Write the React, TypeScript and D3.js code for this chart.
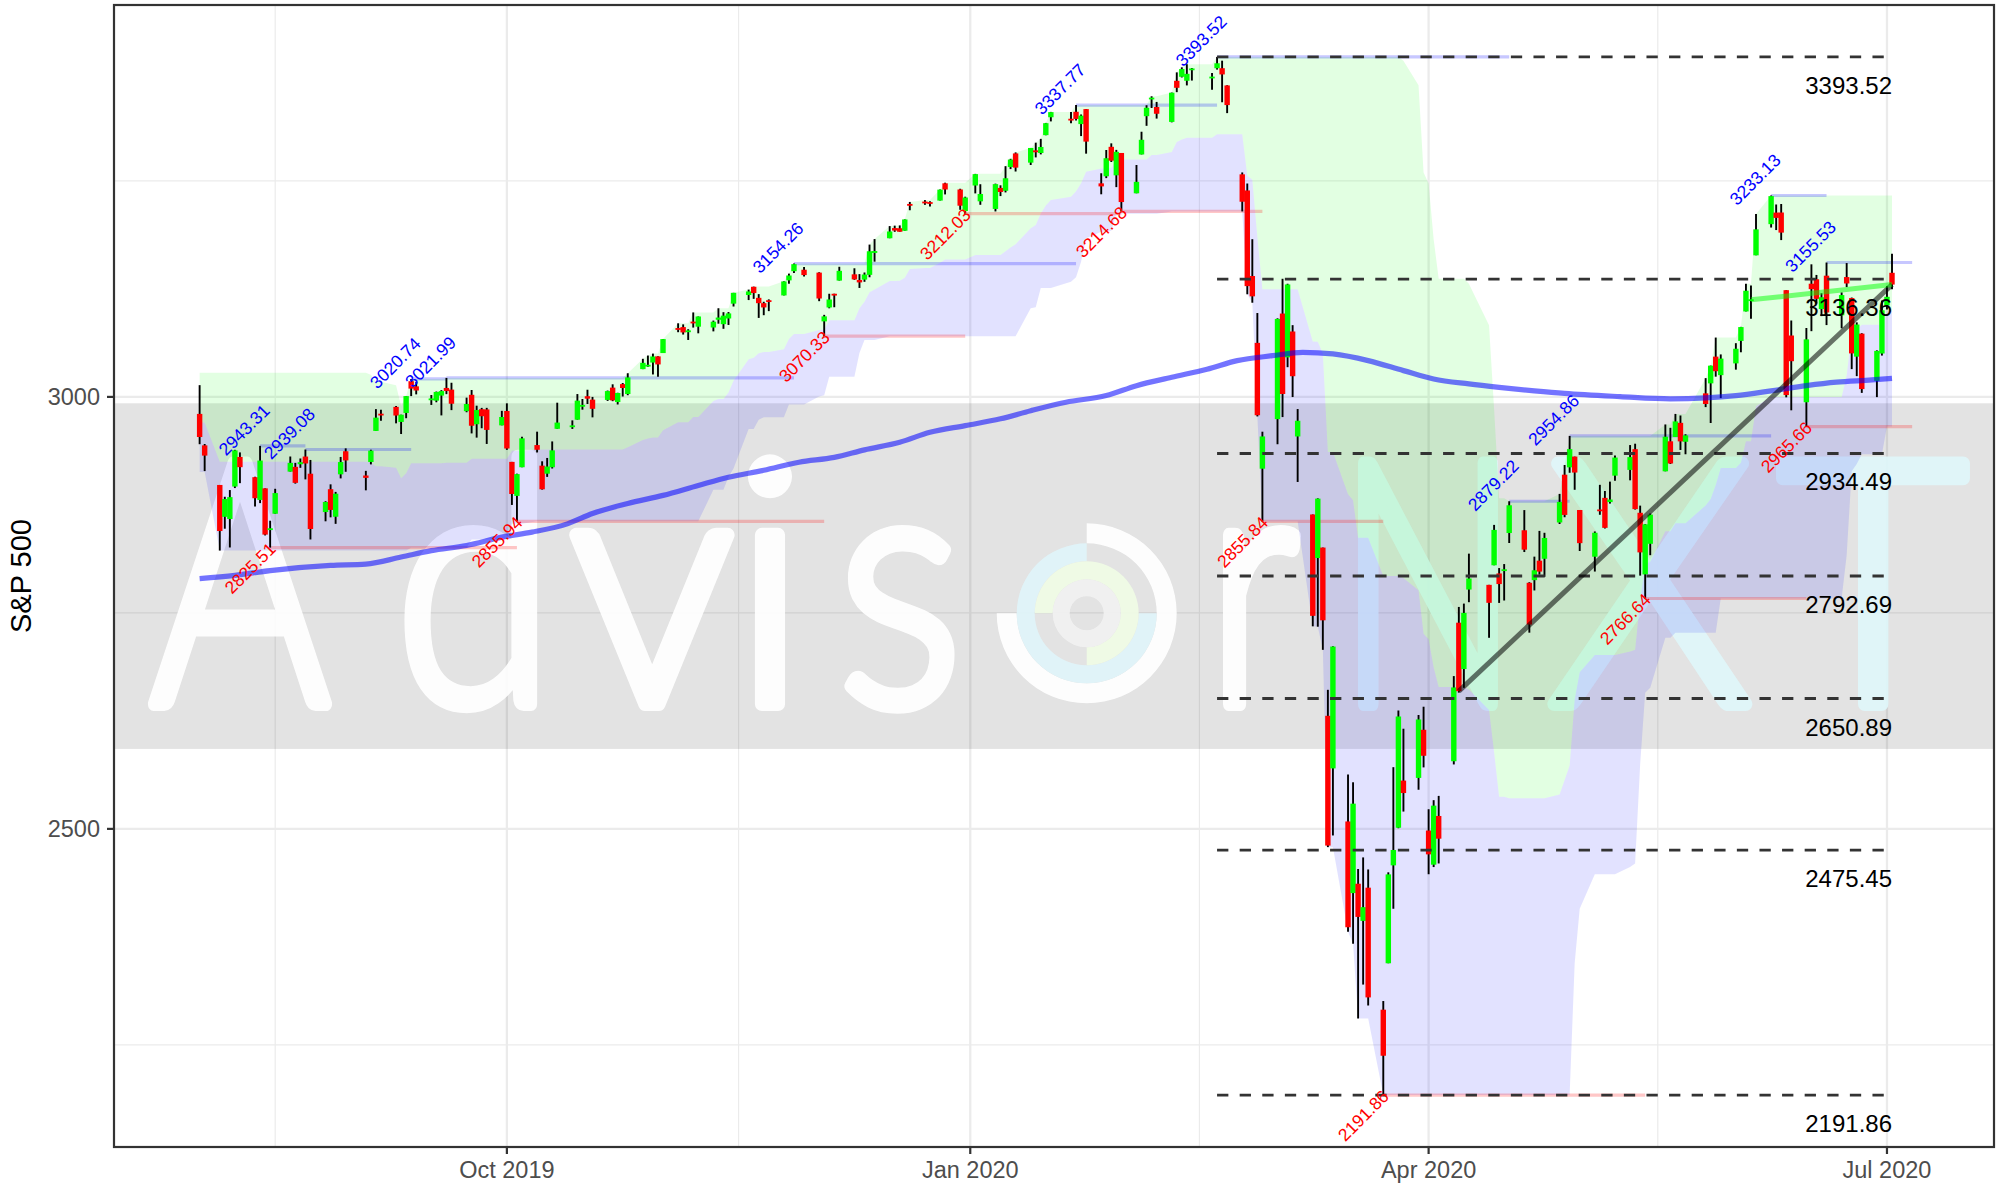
import React from "react";
import * as d3 from "d3";

// ---------------- DATA ----------------
const monthDays: [string, number[]][] = [
  ["2019-08", [1, 2, 5, 6, 7, 8, 9, 12, 13, 14, 15, 16, 19, 20, 21, 22, 23, 26, 27, 28, 29, 30]],
  ["2019-09", [3, 4, 5, 6, 9, 10, 11, 12, 13, 16, 17, 18, 19, 20, 23, 24, 25, 26, 27, 30]],
  ["2019-10", [1, 2, 3, 4, 7, 8, 9, 10, 11, 14, 15, 16, 17, 18, 21, 22, 23, 24, 25, 28, 29, 30, 31]],
  ["2019-11", [1, 4, 5, 6, 7, 8, 11, 12, 13, 14, 15, 18, 19, 20, 21, 22, 25, 26, 27, 29]],
  ["2019-12", [2, 3, 4, 5, 6, 9, 10, 11, 12, 13, 16, 17, 18, 19, 20, 23, 24, 26, 27, 30, 31]],
  ["2020-01", [2, 3, 6, 7, 8, 9, 10, 13, 14, 15, 16, 17, 21, 22, 23, 24, 27, 28, 29, 30, 31]],
  ["2020-02", [3, 4, 5, 6, 7, 10, 11, 12, 13, 14, 18, 19, 20, 21, 24, 25, 26, 27, 28]],
  ["2020-03", [2, 3, 4, 5, 6, 9, 10, 11, 12, 13, 16, 17, 18, 19, 20, 23, 24, 25, 26, 27, 30, 31]],
  ["2020-04", [1, 2, 3, 6, 7, 8, 9, 13, 14, 15, 16, 17, 20, 21, 22, 23, 24, 27, 28, 29, 30]],
  ["2020-05", [1, 4, 5, 6, 7, 8, 11, 12, 13, 14, 15, 18, 19, 20, 21, 22, 26, 27, 28, 29]],
  ["2020-06", [1, 2, 3, 4, 5, 8, 9, 10, 11, 12, 15, 16, 17, 18, 19, 22, 23, 24, 25, 26, 29, 30]],
  ["2020-07", [1, 2]],
];

const openPrices = [
  2980.32, 2943.90, 2898.07, 2861.18, 2858.65, 2896.21, 2930.51, 2907.07, 2880.72, 2894.15, 2846.20, 2864.74, 2913.48, 2919.01, 2922.04, 2930.94, 2911.07, 2866.70, 2893.14, 2861.28, 2910.37, 2937.09,
  2909.01, 2924.67, 2960.60, 2980.33, 2988.43, 2971.01, 2981.41, 3018.21, 3012.21, 2996.41, 2995.67, 3001.50, 3010.36, 3008.42, 2983.50, 3002.43, 2968.35, 2985.73, 2985.47, 2967.07,
  2983.69, 2924.78, 2885.38, 2918.56, 2944.23, 2920.40, 2911.10, 2918.55, 2963.07, 2965.81, 2973.61, 2989.68, 3000.77, 2996.84, 2996.48, 3010.73, 2994.01, 3014.78, 3003.32, 3032.12, 3035.39, 3039.74, 3046.90,
  3050.72, 3078.96, 3080.80, 3075.10, 3087.02, 3081.25, 3080.33, 3089.28, 3084.18, 3090.75, 3107.92, 3117.91, 3127.45, 3114.66, 3108.49, 3111.41, 3117.44, 3134.85, 3145.49, 3147.18,
  3143.85, 3087.41, 3103.50, 3119.21, 3134.62, 3141.86, 3135.36, 3135.75, 3141.23, 3166.65, 3183.63, 3195.40, 3195.21, 3192.32, 3223.33, 3226.05, 3225.45, 3227.20, 3247.23, 3240.09, 3215.18,
  3244.67, 3226.36, 3217.55, 3241.86, 3238.59, 3266.03, 3281.81, 3271.13, 3285.35, 3282.27, 3302.97, 3323.66, 3321.03, 3330.02, 3315.77, 3333.10, 3247.16, 3255.35, 3289.46, 3256.45, 3282.33,
  3235.66, 3280.61, 3324.91, 3344.92, 3335.54, 3318.28, 3365.87, 3370.50, 3365.90, 3378.08, 3369.04, 3380.39, 3380.45, 3360.50, 3257.61, 3238.94, 3139.90, 3062.54, 2916.90,
  2974.28, 3096.46, 3045.75, 3075.70, 2954.20, 2863.89, 2813.48, 2825.60, 2630.86, 2569.99, 2508.59, 2425.66, 2436.50, 2393.48, 2431.94, 2290.71, 2344.44, 2457.77, 2501.29, 2555.87, 2558.98, 2614.69,
  2498.08, 2458.54, 2514.92, 2578.28, 2738.65, 2685.00, 2776.99, 2782.46, 2805.10, 2795.64, 2799.34, 2842.43, 2845.62, 2784.81, 2787.89, 2810.42, 2812.64, 2854.65, 2909.96, 2918.46, 2930.91,
  2869.09, 2815.01, 2868.88, 2883.14, 2878.26, 2908.83, 2915.46, 2939.50, 2865.86, 2794.54, 2829.95, 2913.86, 2948.59, 2953.63, 2969.95, 2948.05, 3004.08, 3015.65, 3046.61, 3025.17,
  3038.78, 3064.78, 3098.90, 3111.56, 3163.84, 3199.92, 3213.32, 3213.42, 3123.53, 3071.04, 2993.76, 3131.00, 3136.13, 3101.64, 3140.29, 3094.42, 3138.70, 3114.40, 3046.60, 3073.20, 3018.59, 3050.20,
  3105.92, 3143.64,
];

const highPrices = [
  3013.59, 2945.50, 2898.07, 2884.40, 2892.17, 2938.72, 2935.75, 2907.58, 2943.31, 2894.15, 2856.67, 2893.63, 2931.00, 2923.63, 2928.73, 2939.08, 2927.01, 2879.27, 2898.79, 2890.03, 2930.50, 2940.43,
  2914.39, 2938.84, 2985.86, 2985.03, 2989.43, 2979.39, 3000.93, 3020.74, 3017.33, 3002.19, 3006.21, 3007.83, 3021.99, 3016.37, 2999.15, 3007.98, 2989.82, 2987.28, 2987.31, 2983.85,
  2992.53, 2924.78, 2911.13, 2953.74, 2959.75, 2925.47, 2929.32, 2948.46, 2993.28, 2972.84, 3003.28, 2997.54, 3008.29, 3000.00, 3007.33, 3014.57, 3004.78, 3016.07, 3027.39, 3044.08, 3047.87, 3050.10, 3046.90,
  3066.95, 3085.20, 3083.95, 3078.34, 3097.77, 3093.09, 3088.33, 3102.61, 3098.06, 3098.20, 3120.46, 3124.17, 3127.64, 3118.97, 3110.11, 3112.87, 3133.83, 3142.69, 3154.26, 3150.30,
  3144.31, 3094.97, 3119.38, 3119.45, 3150.60, 3148.87, 3142.12, 3143.98, 3176.28, 3182.68, 3197.71, 3198.22, 3198.48, 3205.48, 3225.65, 3227.78, 3226.43, 3240.08, 3247.93, 3240.92, 3231.72,
  3258.14, 3246.15, 3246.84, 3244.91, 3267.07, 3275.58, 3282.99, 3288.13, 3294.25, 3298.66, 3317.11, 3329.88, 3329.79, 3337.77, 3326.88, 3333.18, 3258.85, 3285.78, 3293.47, 3285.91, 3282.33,
  3268.44, 3306.92, 3337.58, 3347.96, 3341.42, 3352.26, 3375.63, 3381.47, 3385.09, 3380.69, 3375.01, 3393.52, 3389.15, 3360.76, 3259.81, 3246.99, 3182.51, 3097.07, 2959.72,
  3090.96, 3136.72, 3130.97, 3083.04, 2985.93, 2863.89, 2882.59, 2825.60, 2660.95, 2711.33, 2562.98, 2553.93, 2453.57, 2466.97, 2453.01, 2300.73, 2449.71, 2571.42, 2637.01, 2615.91, 2631.80, 2641.39,
  2522.75, 2533.22, 2538.18, 2676.85, 2756.89, 2760.75, 2818.57, 2782.46, 2851.85, 2801.88, 2806.51, 2879.22, 2868.98, 2785.54, 2815.10, 2844.90, 2842.71, 2887.72, 2921.15, 2954.86, 2930.91,
  2869.09, 2844.24, 2898.23, 2891.11, 2901.92, 2932.16, 2944.25, 2945.82, 2874.14, 2852.80, 2865.01, 2968.09, 2964.21, 2980.29, 2978.50, 2956.76, 3021.72, 3036.25, 3068.67, 3049.17,
  3062.18, 3081.07, 3130.94, 3128.91, 3211.72, 3233.13, 3222.71, 3223.27, 3123.53, 3088.42, 3079.76, 3153.45, 3141.16, 3120.00, 3155.53, 3120.92, 3154.90, 3115.01, 3086.25, 3073.73, 3053.89, 3111.51,
  3128.44, 3165.81,
];

const lowPrices = [
  2945.23, 2914.11, 2822.12, 2847.42, 2825.71, 2894.47, 2900.15, 2873.14, 2877.05, 2839.64, 2825.51, 2864.74, 2913.48, 2899.60, 2917.91, 2904.51, 2834.97, 2856.00, 2860.59, 2853.05, 2905.67, 2913.32,
  2891.85, 2921.86, 2960.60, 2972.51, 2969.39, 2957.01, 2975.31, 3000.92, 3002.90, 2990.67, 2993.73, 2978.57, 3003.16, 2984.68, 2982.23, 2957.73, 2952.86, 2963.71, 2945.53, 2967.07,
  2938.70, 2874.93, 2855.94, 2918.56, 2935.68, 2892.66, 2907.41, 2917.12, 2963.07, 2962.94, 2973.61, 2985.20, 2991.79, 2976.31, 2995.35, 2995.04, 2991.21, 3000.42, 3001.94, 3032.12, 3034.81, 3025.96, 3023.19,
  3050.72, 3074.87, 3072.15, 3065.89, 3080.23, 3073.58, 3075.82, 3084.73, 3078.80, 3083.26, 3104.60, 3112.06, 3113.47, 3091.41, 3094.55, 3099.26, 3117.44, 3131.00, 3143.41, 3139.34,
  3110.78, 3070.33, 3102.53, 3103.76, 3134.62, 3135.46, 3126.09, 3133.21, 3138.47, 3156.51, 3183.63, 3191.03, 3191.14, 3192.32, 3216.03, 3222.30, 3220.51, 3227.20, 3234.37, 3216.57, 3212.03,
  3235.53, 3222.34, 3214.64, 3232.43, 3236.67, 3263.67, 3260.86, 3268.43, 3277.19, 3280.69, 3302.82, 3318.86, 3316.61, 3320.04, 3301.87, 3281.53, 3234.50, 3253.22, 3271.89, 3242.80, 3214.68,
  3235.66, 3280.61, 3313.75, 3334.39, 3322.12, 3317.77, 3352.72, 3369.72, 3360.52, 3366.15, 3355.61, 3378.83, 3341.02, 3328.45, 3214.65, 3118.77, 3108.99, 2977.39, 2855.84,
  2945.19, 2976.63, 3034.38, 2999.83, 2901.54, 2734.43, 2734.00, 2707.22, 2478.86, 2492.37, 2380.94, 2367.04, 2280.52, 2319.78, 2295.56, 2191.86, 2344.44, 2407.53, 2500.72, 2520.02, 2545.28, 2571.15,
  2447.49, 2455.79, 2459.96, 2574.57, 2657.67, 2663.30, 2762.36, 2721.17, 2805.10, 2761.54, 2764.32, 2830.88, 2820.43, 2727.10, 2775.95, 2794.26, 2791.76, 2852.89, 2860.71, 2912.16, 2892.47,
  2821.61, 2797.85, 2863.55, 2847.65, 2876.48, 2902.88, 2903.44, 2869.59, 2793.15, 2766.64, 2816.78, 2913.86, 2922.35, 2953.63, 2938.57, 2933.59, 2988.17, 2969.75, 3023.40, 2998.61,
  3031.54, 3051.64, 3098.90, 3090.41, 3163.84, 3196.00, 3193.11, 3181.49, 2999.49, 2984.47, 2965.66, 3076.06, 3108.03, 3093.51, 3083.11, 3079.39, 3127.12, 3032.13, 3024.01, 3004.63, 2999.74, 3047.83,
  3101.17, 3124.52,
];

const closePrices = [
  2953.56, 2932.05, 2844.74, 2881.77, 2883.98, 2938.09, 2918.65, 2882.70, 2926.32, 2840.60, 2847.60, 2888.68, 2923.65, 2900.51, 2924.43, 2922.95, 2847.11, 2878.38, 2869.16, 2887.94, 2924.58, 2926.46,
  2906.27, 2937.78, 2976.00, 2978.71, 2978.43, 2979.39, 3000.93, 3009.57, 3007.39, 2997.96, 3005.70, 3006.73, 3006.79, 2992.07, 2991.78, 2966.60, 2984.87, 2977.62, 2961.79, 2976.74,
  2940.25, 2887.61, 2910.63, 2952.01, 2938.79, 2893.06, 2919.40, 2938.13, 2970.27, 2966.15, 2995.68, 2989.69, 2997.95, 2986.20, 3006.72, 2995.99, 3004.52, 3010.29, 3022.55, 3039.42, 3036.89, 3046.77, 3037.56,
  3066.91, 3078.27, 3074.62, 3076.78, 3085.18, 3093.08, 3087.01, 3091.84, 3094.04, 3096.63, 3120.46, 3122.03, 3120.18, 3108.46, 3103.54, 3110.29, 3133.64, 3140.52, 3153.63, 3140.98,
  3113.87, 3093.20, 3112.76, 3117.43, 3145.91, 3135.96, 3132.52, 3141.63, 3168.57, 3168.80, 3191.45, 3192.52, 3191.14, 3205.37, 3221.22, 3224.01, 3223.38, 3239.91, 3240.02, 3221.29, 3230.78,
  3257.85, 3234.85, 3246.28, 3237.18, 3253.05, 3274.70, 3265.35, 3288.13, 3283.15, 3289.29, 3316.81, 3329.62, 3320.79, 3321.75, 3325.54, 3295.47, 3243.63, 3276.24, 3273.40, 3283.66, 3225.52,
  3248.92, 3297.59, 3334.69, 3345.78, 3327.71, 3352.09, 3357.75, 3379.45, 3373.94, 3380.16, 3370.29, 3386.15, 3373.23, 3337.75, 3225.89, 3128.21, 3116.39, 2978.76, 2954.22,
  3090.23, 3003.37, 3130.12, 3023.94, 2972.37, 2746.56, 2882.23, 2741.38, 2480.64, 2711.02, 2386.13, 2529.19, 2398.10, 2409.39, 2304.92, 2237.40, 2447.33, 2475.56, 2630.07, 2541.47, 2626.65, 2584.59,
  2470.50, 2526.90, 2488.65, 2663.68, 2659.41, 2749.98, 2789.82, 2761.63, 2846.06, 2783.36, 2799.55, 2874.56, 2823.16, 2736.56, 2799.31, 2797.80, 2836.74, 2878.48, 2863.39, 2939.51, 2912.43,
  2830.71, 2842.74, 2868.44, 2848.42, 2881.19, 2929.80, 2930.32, 2870.12, 2820.00, 2852.50, 2863.70, 2953.91, 2922.94, 2971.61, 2948.51, 2955.45, 2991.77, 3036.13, 3029.73, 3044.31,
  3055.73, 3080.82, 3122.87, 3112.35, 3193.93, 3232.39, 3207.18, 3190.14, 3002.10, 3041.31, 3066.59, 3124.74, 3113.49, 3115.34, 3097.74, 3117.86, 3131.29, 3050.33, 3083.76, 3009.05, 3053.24, 3100.29,
  3115.86, 3130.01,
];

// Channel upper / lower bounds, run-length listed: [number of trading days, level]
const channelUpperRuns: [number, number][] = [
  [23, 3027.98], [1, 3025.61], [2, 3017.40], [1, 3013.59], [1, 2989.43], [1, 3000.93], [5, 3020.74], [26, 3021.99],
  [1, 3027.39], [1, 3044.08], [1, 3047.87], [2, 3050.10], [1, 3066.95], [3, 3085.20], [3, 3097.77], [3, 3102.61],
  [1, 3120.46], [1, 3124.17], [4, 3127.64], [1, 3133.83], [1, 3142.69], [10, 3154.26], [1, 3176.28], [1, 3182.68],
  [1, 3197.71], [1, 3198.22], [1, 3198.48], [1, 3205.48], [1, 3225.65], [2, 3227.78], [1, 3240.08], [3, 3247.93],
  [4, 3258.14], [1, 3267.07], [1, 3275.58], [1, 3282.99], [1, 3288.13], [1, 3294.25], [1, 3298.66], [1, 3317.11],
  [2, 3329.88], [11, 3337.77], [2, 3347.96], [1, 3352.26], [1, 3375.63], [1, 3381.47], [3, 3385.09], [27, 3393.52],
  [1, 3389.15], [1, 3360.76], [1, 3259.81], [1, 3246.99], [1, 3182.51], [4, 3136.72], [1, 3130.97], [1, 3083.04],
  [1, 2985.93], [2, 2882.59], [6, 2879.22], [1, 2887.72], [1, 2921.15], [13, 2954.86], [2, 2968.09], [3, 2980.29],
  [1, 3021.72], [1, 3036.25], [3, 3068.67], [1, 3081.07], [2, 3130.94], [1, 3211.72], [19, 3233.13],
];
const channelLowerRuns: [number, number][] = [
  [2, 2912.99], [27, 2822.12], [8, 2825.51], [6, 2834.97], [3, 2853.05], [25, 2855.94], [3, 2892.66], [1, 2907.41],
  [1, 2917.12], [2, 2962.94], [1, 2973.61], [3, 2976.31], [3, 2991.21], [1, 3000.42], [1, 3001.94], [4, 3023.19],
  [1, 3050.72], [3, 3065.89], [18, 3070.33], [1, 3102.53], [1, 3103.76], [3, 3126.09], [1, 3133.21], [1, 3138.47],
  [1, 3156.51], [1, 3183.63], [1, 3191.03], [1, 3191.14], [1, 3192.32], [7, 3212.03], [3, 3214.64], [6, 3214.68],
  [1, 3214.65], [1, 3118.77], [1, 3108.99], [1, 2977.39], [6, 2855.84], [1, 2734.43], [1, 2734.00], [1, 2707.22],
  [2, 2478.86], [1, 2380.94], [1, 2367.04], [3, 2280.52], [27, 2191.86], [1, 2344.44], [1, 2407.53], [5, 2447.49],
  [1, 2455.79], [1, 2459.96], [1, 2574.57], [1, 2657.67], [1, 2663.30], [2, 2721.17], [6, 2727.10], [17, 2766.64],
  [1, 2816.78], [1, 2913.86], [1, 2922.35], [3, 2933.59], [2, 2965.66],
];

// Long moving average
const maDates = [
  "2019-08-01", "2019-08-08", "2019-08-15", "2019-08-27", "2019-09-03", "2019-09-10", "2019-09-16", "2019-09-23",
  "2019-09-30", "2019-10-06", "2019-10-13", "2019-10-18", "2019-10-25", "2019-11-01", "2019-11-08", "2019-11-14",
  "2019-11-21", "2019-11-28", "2019-12-05", "2019-12-11", "2019-12-18", "2019-12-24", "2019-12-31", "2020-01-07",
  "2020-01-13", "2020-01-20", "2020-01-28", "2020-02-03", "2020-02-10", "2020-02-17", "2020-02-23", "2020-03-01",
  "2020-03-07", "2020-03-13", "2020-03-20", "2020-03-27", "2020-04-02", "2020-04-09", "2020-04-15", "2020-04-22",
  "2020-04-28", "2020-05-09", "2020-05-19", "2020-05-26", "2020-06-01", "2020-06-08", "2020-06-15", "2020-06-21",
  "2020-06-28", "2020-07-02",
];
const maValues = [
  2789.6, 2793.4, 2799.0, 2805.0, 2806.5, 2814.6, 2822.0, 2828.0,
  2837.7, 2843.5, 2853.0, 2865.0, 2876.6, 2886.0, 2897.5, 2907.0,
  2915.0, 2924.4, 2930.0, 2938.7, 2947.5, 2959.0, 2966.8, 2974.6,
  2984.0, 2993.8, 3001.5, 3013.0, 3022.7, 3032.0, 3042.0, 3047.7,
  3051.6, 3049.7, 3042.0, 3030.4, 3020.8, 3015.0, 3011.0, 3007.0,
  3004.0, 3000.3, 2997.7, 2998.8, 3001.5, 3007.0, 3013.0, 3017.0,
  3019.6, 3021.5,
];

const pivotHighDates = ["2019-08-13", "2019-08-22", "2019-09-12", "2019-09-19", "2019-11-27", "2020-01-22", "2020-02-19", "2020-04-17", "2020-04-29", "2020-06-08", "2020-06-19"];
const pivotHighValues = [2943.31, 2939.08, 3020.74, 3021.99, 3154.26, 3337.77, 3393.52, 2879.22, 2954.86, 3233.13, 3155.53];
const pivotLowDates = ["2019-08-15", "2019-10-03", "2019-12-03", "2019-12-31", "2020-01-31", "2020-02-28", "2020-03-23", "2020-05-14", "2020-06-15"];
const pivotLowValues = [2825.51, 2855.94, 3070.33, 3212.03, 3214.68, 2855.84, 2191.86, 2766.64, 2965.66];
const pivotLineEnd = "2020-07-06";

const fibLevels = [3393.52, 3136.36, 2934.49, 2792.69, 2650.89, 2475.45, 2191.86];
const fibStart = "2020-02-19";
const fibEnd = "2020-07-02";

const trendLineDates = ["2020-04-07", "2020-07-02"];
const trendLineValues = [2659.41, 3130.01];
const shortLineDates = ["2020-06-04", "2020-07-02"];
const shortLineValues = [3112.35, 3130.01];

const yTicks = [2500, 3000];
const yMinorTicks = [2250, 2750, 3250];
const watermarkBand = [2592.5, 2992.6];

// ---------------- HELPERS ----------------
const parseDay = (s: string) => {
  const [y, m, d] = s.split("-").map(Number);
  return new Date(Date.UTC(y, m - 1, d));
};
const expandRuns = (runs: [number, number][]) => runs.flatMap(([n, v]) => Array(n).fill(v) as number[]);

const W = 2007;
const H = 1186;
const P = { left: 114, right: 1994, top: 5, bottom: 1147 };
const FONT = "'Liberation Sans', Arial, Helvetica, sans-serif";

export default function App() {
  const days = monthDays.flatMap(([m, ds]) => ds.map((d) => `${m}-${String(d).padStart(2, "0")}`));
  const dates = days.map(parseDay);

  const x = d3
    .scaleUtc()
    .domain([new Date(Date.UTC(2019, 6, 15)), new Date(Date.UTC(2020, 6, 22, 6))])
    .range([P.left, P.right]);
  const y = d3.scaleLinear().domain([2131.78, 3453.6]).range([P.bottom, P.top]);

  const upper = expandRuns(channelUpperRuns);
  const lower = expandRuns(channelLowerRuns);
  const mid = upper.map((u, i) => (u + lower[i]) / 2);

  const idx = d3.range(dates.length);
  const greenArea = d3
    .area<number>()
    .x((i) => x(dates[i]))
    .y0((i) => y(mid[i]))
    .y1((i) => y(upper[i]))(idx) as string;
  const blueArea = d3
    .area<number>()
    .x((i) => x(dates[i]))
    .y0((i) => y(lower[i]))
    .y1((i) => y(mid[i]))(idx) as string;

  const maLine = d3
    .line<number>()
    .x((i) => x(parseDay(maDates[i])))
    .y((i) => y(maValues[i]))
    .curve(d3.curveMonotoneX)(d3.range(maDates.length)) as string;

  const majorX = x.ticks(d3.utcMonth.every(3) as any);
  const step = majorX[1].getTime() - majorX[0].getTime();
  const minorX: Date[] = [];
  const extended = [new Date(majorX[0].getTime() - step), ...majorX, new Date(majorX[majorX.length - 1].getTime() + step)];
  for (let i = 0; i < extended.length - 1; i++) {
    const a = extended[i];
    const b = extended[i + 1];
    const m = new Date((a.getTime() + b.getTime()) / 2);
    const px = x(m);
    if (px > P.left && px < P.right) minorX.push(m);
  }
  const fmt = d3.utcFormat("%b %Y");

  // watermark letters
  const baseY = 704;
  const wmLetters: { ch: string; cx: number; w: number | null; fill: string }[] = [
    { ch: "A", cx: 240, w: 180, fill: "#ffffff" },
    { ch: "d", cx: 475, w: 160, fill: "#ffffff" },
    { ch: "v", cx: 652, w: 165, fill: "#ffffff" },
    { ch: "i", cx: 770, w: null, fill: "#ffffff" },
    { ch: "s", cx: 900, w: 125, fill: "#ffffff" },
    { ch: "r", cx: 1253, w: 92, fill: "#ffffff" },
    { ch: "N", cx: 1428, w: 180, fill: "#e0f7fa" },
    { ch: "X", cx: 1650, w: 205, fill: "#e0f7fa" },
    { ch: "T", cx: 1873, w: 190, fill: "#e0f7fa" },
  ];
  const logo = { cx: 1086.7, cy: 613.3 };
  const arc = d3.arc<any>();
  const ringDefs = [
    { r0: 70, r1: 90, a0: 0, a1: 1.5 * Math.PI, fill: "#ffffff" },
    { r0: 52, r1: 70, a0: 0.5 * Math.PI, a1: 2 * Math.PI, fill: "#e0f5fa" },
    { r0: 34, r1: 52, a0: -0.5 * Math.PI, a1: Math.PI, fill: "#f0fce6" },
    { r0: 17, r1: 34, a0: 0, a1: 2 * Math.PI, fill: "#f2f2f2" },
  ];

  return (
    <div style={{ position: "absolute", left: 0, top: 0, width: W, height: H, background: "#fff" }}>
      <svg width={W} height={H} style={{ display: "block" }} fontFamily={FONT}>
        <defs>
          <clipPath id="panel">
            <rect x={P.left} y={P.top} width={P.right - P.left} height={P.bottom - P.top} />
          </clipPath>
        </defs>
        <rect x={0} y={0} width={W} height={H} fill="#ffffff" />
        {/* grid */}
        <g>
          {yMinorTicks.map((t) => (
            <line key={"ym" + t} x1={P.left} x2={P.right} y1={y(t)} y2={y(t)} stroke="#ebebeb" strokeWidth={1.2} />
          ))}
          {minorX.map((d, i) => (
            <line key={"xm" + i} x1={x(d)} x2={x(d)} y1={P.top} y2={P.bottom} stroke="#ebebeb" strokeWidth={1.2} />
          ))}
          {yTicks.map((t) => (
            <line key={"y" + t} x1={P.left} x2={P.right} y1={y(t)} y2={y(t)} stroke="#ebebeb" strokeWidth={2.3} />
          ))}
          {majorX.map((d, i) => (
            <line key={"x" + i} x1={x(d)} x2={x(d)} y1={P.top} y2={P.bottom} stroke="#ebebeb" strokeWidth={2.3} />
          ))}
        </g>

        <g clipPath="url(#panel)">
          {/* watermark */}
          <rect
            x={P.left}
            y={y(watermarkBand[1])}
            width={P.right - P.left}
            height={y(watermarkBand[0]) - y(watermarkBand[1])}
            fill="#000"
            fillOpacity={0.11}
          />
          <g opacity={0.93}>
            {wmLetters.map((l) => (
              <text
                key={l.ch}
                x={l.cx}
                y={baseY}
                textAnchor="middle"
                fontFamily="Lato, 'Open Sans', 'Liberation Sans', sans-serif"
                fontWeight={300}
                fontSize={340}
                fill={l.fill}
                stroke={l.fill}
                strokeWidth={14}
                strokeLinejoin="round"
                {...(l.w ? { textLength: l.w, lengthAdjust: "spacingAndGlyphs" } : {})}
              >
                {l.ch}
              </text>
            ))}
            <g transform={`translate(${logo.cx},${logo.cy})`}>
              {ringDefs.map((r, i) => (
                <path
                  key={i}
                  d={arc({ innerRadius: r.r0, outerRadius: r.r1, startAngle: r.a0, endAngle: r.a1 }) as string}
                  fill={r.fill}
                />
              ))}
            </g>
          </g>

          {/* channel ribbons */}
          <path d={blueArea} fill="#0000ff" fillOpacity={0.115} />
          <path d={greenArea} fill="#00ff00" fillOpacity={0.115} />

          {/* pivot level lines */}
          {pivotHighDates.map((d, i) => (
            <line
              key={"ph" + i}
              x1={x(parseDay(d))}
              x2={x(parseDay(pivotHighDates[i + 1] ?? pivotLineEnd))}
              y1={y(pivotHighValues[i])}
              y2={y(pivotHighValues[i])}
              stroke="#0000ff"
              strokeOpacity={0.22}
              strokeWidth={3.2}
            />
          ))}
          {pivotLowDates.map((d, i) => (
            <line
              key={"pl" + i}
              x1={x(parseDay(d))}
              x2={x(parseDay(pivotLowDates[i + 1] ?? pivotLineEnd))}
              y1={y(pivotLowValues[i])}
              y2={y(pivotLowValues[i])}
              stroke="#ff0000"
              strokeOpacity={0.22}
              strokeWidth={3.2}
            />
          ))}

          {/* candles */}
          {dates.map((d, i) => {
            const cx = x(d);
            const o = openPrices[i];
            const c = closePrices[i];
            const up = c >= o;
            const yTop = y(Math.max(o, c));
            const yBot = y(Math.min(o, c));
            const h = Math.max(yBot - yTop, 1.8);
            return (
              <g key={"c" + i}>
                <line x1={cx} x2={cx} y1={y(highPrices[i])} y2={y(lowPrices[i])} stroke="#000" strokeWidth={1.9} />
                <rect x={cx - 2.7} y={yTop - (h - (yBot - yTop)) / 2} width={5.4} height={h} fill={up ? "#00ff00" : "#ff0000"} />
              </g>
            );
          })}

          {/* moving average */}
          <path d={maLine} fill="none" stroke="#0000ff" strokeOpacity={0.55} strokeWidth={5.2} strokeLinejoin="round" />

          {/* fib levels */}
          {fibLevels.map((v) => (
            <line
              key={"f" + v}
              x1={x(parseDay(fibStart))}
              x2={x(parseDay(fibEnd))}
              y1={y(v)}
              y2={y(v)}
              stroke="#333333"
              strokeWidth={2.8}
              strokeDasharray="11.3 11.3"
            />
          ))}

          {/* trend lines */}
          <line
            x1={x(parseDay(trendLineDates[0]))}
            y1={y(trendLineValues[0])}
            x2={x(parseDay(trendLineDates[1]))}
            y2={y(trendLineValues[1])}
            stroke="#000"
            strokeOpacity={0.55}
            strokeWidth={5}
          />
          <line
            x1={x(parseDay(shortLineDates[0]))}
            y1={y(shortLineValues[0])}
            x2={x(parseDay(shortLineDates[1]))}
            y2={y(shortLineValues[1])}
            stroke="#00ff00"
            strokeOpacity={0.5}
            strokeWidth={5}
          />

          {/* pivot labels */}
          {pivotHighDates.map((d, i) => (
            <text
              key={"lh" + i}
              transform={`translate(${x(parseDay(d))},${y(pivotHighValues[i])}) rotate(-45)`}
              x={0}
              y={-16.5}
              textAnchor="middle"
              fontSize={17.5}
              fill="#0000ff"
            >
              {pivotHighValues[i].toFixed(2)}
            </text>
          ))}
          {pivotLowDates.map((d, i) => (
            <text
              key={"ll" + i}
              transform={`translate(${x(parseDay(d))},${y(pivotLowValues[i])}) rotate(-45)`}
              x={3}
              y={6.5}
              textAnchor="end"
              fontSize={17.5}
              fill="#ff0000"
            >
              {pivotLowValues[i].toFixed(2)}
            </text>
          ))}

          {/* fib labels */}
          {fibLevels.map((v) => (
            <text key={"ft" + v} x={x(parseDay(fibEnd))} y={y(v) + 37} textAnchor="end" fontSize={24} fill="#000">
              {v.toFixed(2)}
            </text>
          ))}
        </g>

        {/* panel border */}
        <rect
          x={P.left}
          y={P.top}
          width={P.right - P.left}
          height={P.bottom - P.top}
          fill="none"
          stroke="#333333"
          strokeWidth={2.2}
        />

        {/* y axis */}
        {yTicks.map((t) => (
          <g key={"yt" + t}>
            <line x1={P.left - 7} x2={P.left} y1={y(t)} y2={y(t)} stroke="#333333" strokeWidth={2.2} />
            <text x={P.left - 14} y={y(t)} dy="0.36em" textAnchor="end" fontSize={23.5} fill="#4d4d4d">
              {t}
            </text>
          </g>
        ))}
        <text transform={`translate(31,${(P.top + P.bottom) / 2}) rotate(-90)`} textAnchor="middle" fontSize={29} fill="#000">
          S&amp;P 500
        </text>

        {/* x axis */}
        {majorX.map((d, i) => (
          <g key={"xt" + i}>
            <line x1={x(d)} x2={x(d)} y1={P.bottom} y2={P.bottom + 7} stroke="#333333" strokeWidth={2.2} />
            <text x={x(d)} y={1178} textAnchor="middle" fontSize={23.5} fill="#4d4d4d">
              {fmt(d)}
            </text>
          </g>
        ))}
      </svg>
    </div>
  );
}
